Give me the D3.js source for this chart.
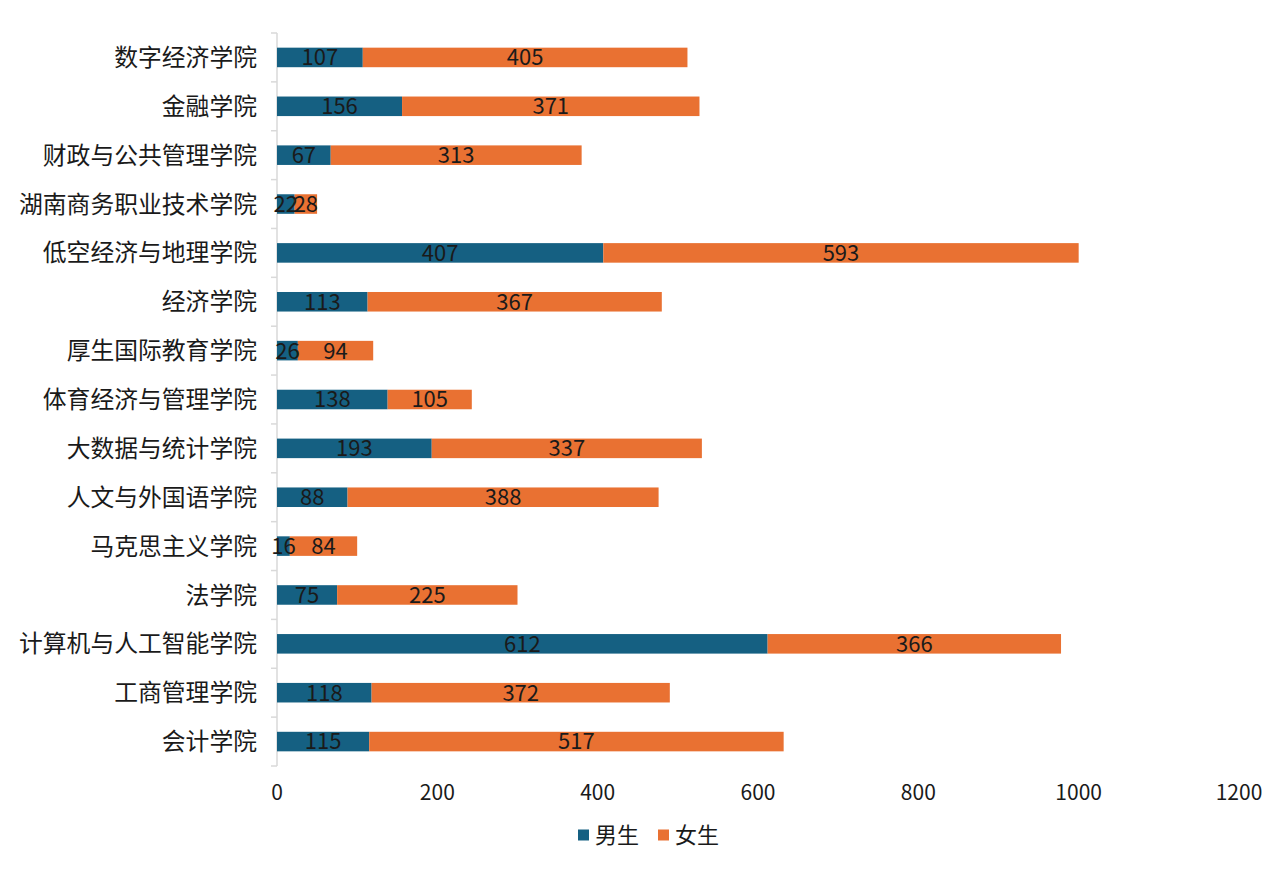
<!doctype html>
<html lang="zh">
  <head>
    <meta charset="utf-8">
    <title>学院男女生人数</title>
    <script src="https://d3js.org/d3.v7.min.js"></script>
    <style>
      body { margin: 0; background: #fff; }
      text { font-family: "Noto Sans CJK SC", "Noto Sans", sans-serif; fill: #1a1a1a; }
    </style>
  </head>
  <body>
    <svg width="1285" height="870"></svg>

    <script>
      var categories = ["数字经济学院", "金融学院", "财政与公共管理学院", "湖南商务职业技术学院", "低空经济与地理学院",
        "经济学院", "厚生国际教育学院", "体育经济与管理学院", "大数据与统计学院", "人文与外国语学院",
        "马克思主义学院", "法学院", "计算机与人工智能学院", "工商管理学院", "会计学院"];
      var male = [107, 156, 67, 22, 407, 113, 26, 138, 193, 88, 16, 75, 612, 118, 115];
      var female = [405, 371, 313, 28, 593, 367, 94, 105, 337, 388, 84, 225, 366, 372, 517];
      var seriesNames = ["男生", "女生"];
      var xTicks = [0, 200, 400, 600, 800, 1000, 1200];

      var colors = ["#156082", "#e97132"];
      var svg = d3.select('svg');

      var rows = categories.map(function(c, i){ return {cat: c, "男生": male[i], "女生": female[i]}; });
      var stacked = d3.stack().keys(seriesNames)(rows);

      var x = d3.scaleLinear().domain([0, 1200]).range([277, 1239]);
      var y = d3.scaleBand().domain(categories).range([33, 766]).paddingInner(0.6).paddingOuter(0.3);

      // y axis line and band ticks (drawn first so labels sit on top)
      var step = y.step();
      var axisTop = y.range()[0];
      svg.append('line')
        .attr('x1', 277).attr('x2', 277)
        .attr('y1', axisTop).attr('y2', y.range()[1])
        .attr('stroke', '#d9d9d9').attr('stroke-width', 1.5);
      svg.selectAll('line.band-tick').data(d3.range(categories.length + 1)).enter()
        .append('line').attr('class', 'band-tick')
        .attr('x1', 271).attr('x2', 277)
        .attr('y1', function(i){ return axisTop + i * step; })
        .attr('y2', function(i){ return axisTop + i * step; })
        .attr('stroke', '#d9d9d9').attr('stroke-width', 1.5);

      // bars
      var layers = svg.selectAll('g.layer').data(stacked).enter()
        .append('g').attr('class', 'layer')
        .attr('fill', function(d, i){ return colors[i]; });

      layers.selectAll('rect').data(function(d){ return d; }).enter()
        .append('rect')
        .attr('x', function(d){ return x(d[0]); })
        .attr('y', function(d){ return y(d.data.cat); })
        .attr('width', function(d){ return x(d[1]) - x(d[0]); })
        .attr('height', y.bandwidth());

      // value labels, after all bars
      var labels = svg.append('g');
      stacked.forEach(function(layer){
        labels.selectAll(null).data(layer).enter()
          .append('text')
          .attr('x', function(d){ return (x(d[0]) + x(d[1])) / 2; })
          .attr('y', function(d){ return y(d.data.cat) + y.bandwidth() / 2; })
          .attr('dy', '0.36em')
          .attr('text-anchor', 'middle')
          .style('font-size', '22px')
          .text(function(d){ return d[1] - d[0]; });
      });

      // category labels
      svg.selectAll('text.cat').data(categories).enter()
        .append('text').attr('class', 'cat')
        .attr('x', 257)
        .attr('y', function(d){ return y(d) + y.bandwidth() / 2; })
        .attr('dy', '0.36em')
        .attr('text-anchor', 'end')
        .style('font-size', '23.8px')
        .text(function(d){ return d; });

      // x tick labels
      svg.selectAll('text.xtick').data(xTicks).enter()
        .append('text').attr('class', 'xtick')
        .attr('x', function(d){ return x(d); })
        .attr('y', 792)
        .attr('dy', '0.36em')
        .attr('text-anchor', 'middle')
        .style('font-size', '21px')
        .text(function(d){ return d; });

      // legend
      var legendX = [578, 658];
      var legend = svg.selectAll('g.legend').data(seriesNames).enter()
        .append('g').attr('class', 'legend')
        .attr('transform', function(d, i){ return 'translate(' + legendX[i] + ',835)'; });
      legend.append('rect')
        .attr('x', 0).attr('y', -5.5).attr('width', 11).attr('height', 11)
        .attr('fill', function(d, i){ return colors[i]; });
      legend.append('text')
        .attr('x', 17).attr('dy', '0.36em')
        .style('font-size', '22px')
        .text(function(d){ return d; });
    </script>
  </body>
</html>
